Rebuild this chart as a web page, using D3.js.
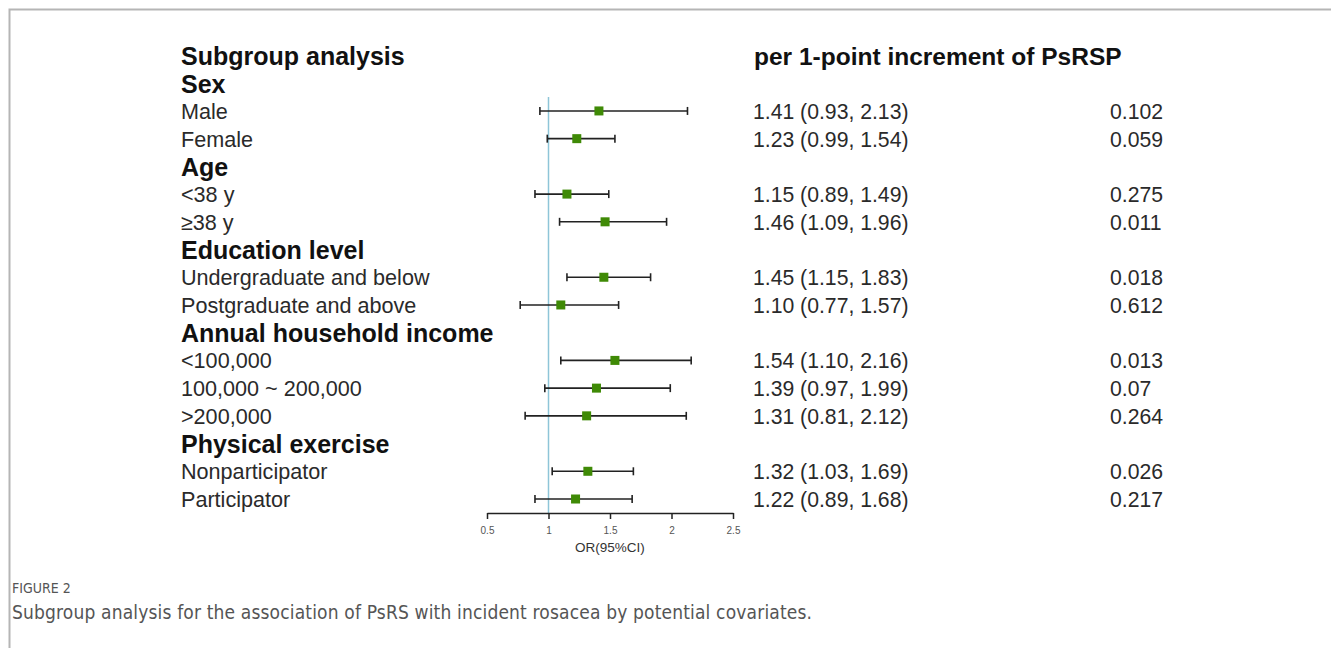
<!DOCTYPE html>
<html>
<head>
<meta charset="utf-8">
<script src="https://cdn.jsdelivr.net/npm/d3@7"></script>
<style>
  body { margin: 0; background: #fff; }
  svg { display: block; }
</style>
</head>
<body>
<svg id="chart" width="1331" height="648"></svg>
<script>
// Rows of the forest plot, top to bottom (header rows have no estimate).
var labels = ["Subgroup analysis", "Sex", "Male", "Female", "Age", "<38 y", "\u226538 y",
  "Education level", "Undergraduate and below", "Postgraduate and above",
  "Annual household income", "<100,000", "100,000 ~ 200,000", ">200,000",
  "Physical exercise", "Nonparticipator", "Participator"];
var isHeader = [true, true, false, false, true, false, false, true, false, false,
  true, false, false, false, true, false, false];
var or    = [null, null, 1.41, 1.23, null, 1.15, 1.46, null, 1.45, 1.10, null, 1.54, 1.39, 1.31, null, 1.32, 1.22];
var lower = [null, null, 0.93, 0.99, null, 0.89, 1.09, null, 1.15, 0.77, null, 1.10, 0.97, 0.81, null, 1.03, 0.89];
var upper = [null, null, 2.13, 1.54, null, 1.49, 1.96, null, 1.83, 1.57, null, 2.16, 1.99, 2.12, null, 1.69, 1.68];
var pvals = ["", "", "0.102", "0.059", "", "0.275", "0.011", "", "0.018", "0.612", "",
  "0.013", "0.07", "0.264", "", "0.026", "0.217"];
var xTicks = [0.5, 1, 1.5, 2, 2.5];

var svg = d3.select('#chart');

// frame like the journal page
svg.append('path')
   .attr('d', 'M9.5,648 V9.5 H1331')
   .attr('fill', 'none')
   .attr('stroke', '#b5b5b5')
   .attr('stroke-width', 2);

var x = d3.scaleLinear().domain([0.5, 2.5]).range([487, 733]);
var y = d3.scalePoint()
          .domain(d3.range(labels.length))
          .range([55.5, 499]);

var font = 'Liberation Sans, Arial, sans-serif';
// text baselines relative to the row centre
function base(i) { return y(i) + (isHeader[i] ? 9.5 : 8); }

// left labels
svg.selectAll('.label')
   .data(labels)
   .enter()
   .append('text')
   .attr('x', 181)
   .attr('y', function (d, i) { return base(i); })
   .style('font-family', font)
   .style('font-size', function (d, i) { return isHeader[i] ? '25px' : '21.6px'; })
   .style('font-weight', function (d, i) { return isHeader[i] ? 'bold' : 'normal'; })
   .style('fill', function (d, i) { return isHeader[i] ? '#111' : '#2a2a2a'; })
   .text(function (d) { return d; });

// right column header
svg.append('text')
   .attr('x', 754)
   .attr('y', base(0))
   .style('font-family', font)
   .style('font-size', '24.5px')
   .style('font-weight', 'bold')
   .style('fill', '#111')
   .text('per 1-point increment of PsRSP');

var rows = d3.range(labels.length).filter(function (i) { return or[i] != null; });

// estimate text
svg.selectAll('.est')
   .data(rows)
   .enter()
   .append('text')
   .attr('x', 753)
   .attr('y', function (i) { return base(i); })
   .style('font-family', font)
   .style('font-size', '21.2px')
   .style('fill', '#2a2a2a')
   .text(function (i) {
     return or[i].toFixed(2) + ' (' + lower[i].toFixed(2) + ', ' + upper[i].toFixed(2) + ')';
   });

// p values
svg.selectAll('.pval')
   .data(rows)
   .enter()
   .append('text')
   .attr('x', 1110)
   .attr('y', function (i) { return base(i); })
   .style('font-family', font)
   .style('font-size', '21.2px')
   .style('fill', '#2a2a2a')
   .text(function (i) { return pvals[i]; });

// reference line at OR = 1
svg.append('line')
   .attr('x1', x(1)).attr('x2', x(1))
   .attr('y1', 97).attr('y2', 513)
   .attr('stroke', '#8ec5d8')
   .attr('stroke-width', 1.5);

// x axis
var axis = d3.axisBottom(x)
             .tickValues(xTicks)
             .tickSize(6)
             .tickSizeOuter(0)
             .tickFormat(function (d) { return String(d); });

var gx = svg.append('g')
            .attr('transform', 'translate(0,513)')
            .call(axis);
gx.select('.domain').attr('stroke', '#222').attr('stroke-width', 1.5);
gx.selectAll('.tick line').attr('stroke', '#222').attr('stroke-width', 1.5);
gx.selectAll('.tick text')
  .attr('y', 17)
  .attr('dy', null)
  .attr('dominant-baseline', 'central')
  .style('font-family', font)
  .style('font-size', '10px')
  .style('fill', '#555');

svg.append('text')
   .attr('x', x(1.5))
   .attr('y', 547)
   .attr('text-anchor', 'middle')
   .attr('dominant-baseline', 'central')
   .style('font-family', font)
   .style('font-size', '13.5px')
   .style('fill', '#333')
   .text('OR(95%CI)');

// confidence intervals
var ci = svg.selectAll('.ci')
            .data(rows)
            .enter()
            .append('g');

ci.append('line')
  .attr('x1', function (i) { return x(lower[i]); })
  .attr('x2', function (i) { return x(upper[i]); })
  .attr('y1', function (i) { return y(i); })
  .attr('y2', function (i) { return y(i); })
  .attr('stroke', '#222')
  .attr('stroke-width', 1.6);

[lower, upper].forEach(function (arr) {
  ci.append('line')
    .attr('x1', function (i) { return x(arr[i]); })
    .attr('x2', function (i) { return x(arr[i]); })
    .attr('y1', function (i) { return y(i) - 4; })
    .attr('y2', function (i) { return y(i) + 4; })
    .attr('stroke', '#222')
    .attr('stroke-width', 1.6);
});

ci.append('rect')
  .attr('x', function (i) { return x(or[i]) - 4.5; })
  .attr('y', function (i) { return y(i) - 4.5; })
  .attr('width', 9)
  .attr('height', 9)
  .attr('fill', '#3f8a06');

// caption
svg.append('text')
   .attr('x', 12)
   .attr('y', 593)
   .style('font-family', 'Liberation Sans Narrow, DejaVu Sans Condensed, sans-serif')
   .style('font-size', '14px')
   .style('fill', '#555')
   .text('FIGURE 2');

svg.append('text')
   .attr('x', 12)
   .attr('y', 619)
   .attr('textLength', 800)
   .style('font-family', 'Liberation Sans Narrow, DejaVu Sans Condensed, sans-serif')
   .style('font-size', '19px')
   .style('fill', '#555')
   .text('Subgroup analysis for the association of PsRS with incident rosacea by potential covariates.');
</script>
</body>
</html>
